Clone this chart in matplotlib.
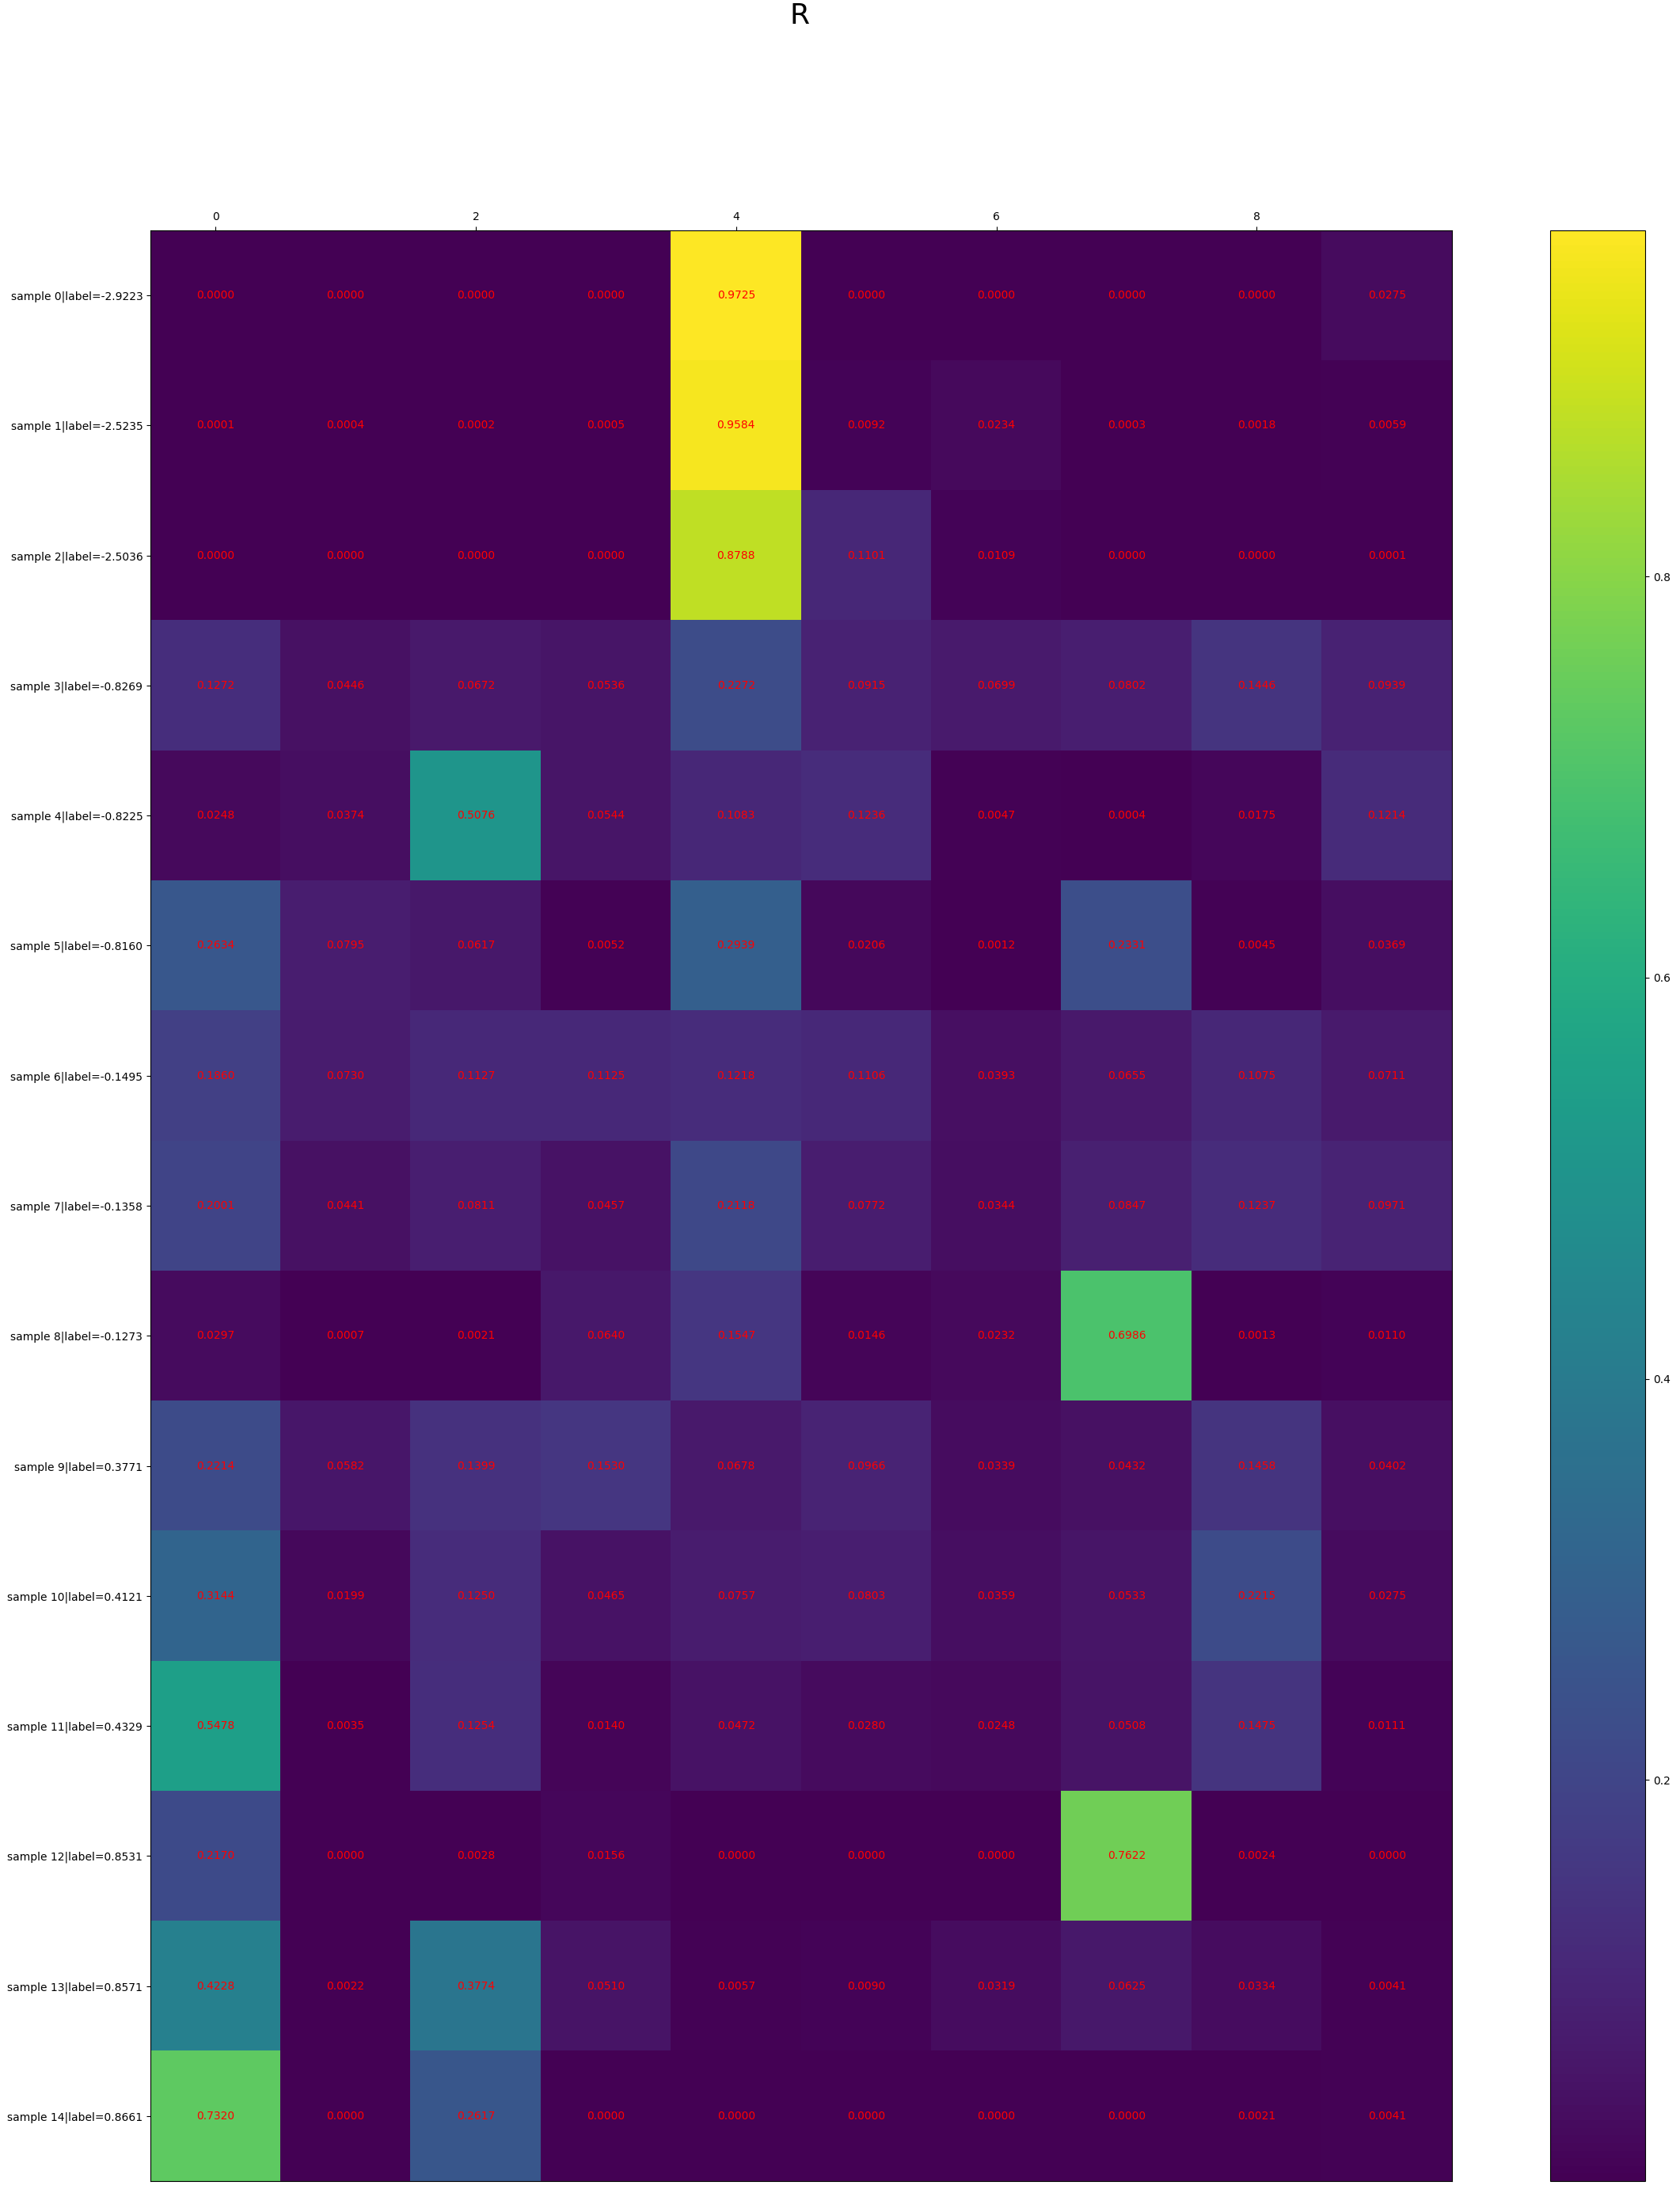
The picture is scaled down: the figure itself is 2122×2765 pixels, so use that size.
import numpy as np
import matplotlib
matplotlib.use('Agg')
import matplotlib.pyplot as plt

# label value of each sample (rows)
labels = [-2.9223, -2.5235, -2.5036, -0.8269, -0.8225, -0.8160, -0.1495,
          -0.1358, -0.1273, 0.3771, 0.4121, 0.4329, 0.8531, 0.8571, 0.8661]

# R matrix, one row per sample, 10 columns
R = np.array([
    [0.0000, 0.0000, 0.0000, 0.0000, 0.9725, 0.0000, 0.0000, 0.0000, 0.0000, 0.0275],
    [0.0001, 0.0004, 0.0002, 0.0005, 0.9584, 0.0092, 0.0234, 0.0003, 0.0018, 0.0059],
    [0.0000, 0.0000, 0.0000, 0.0000, 0.8788, 0.1101, 0.0109, 0.0000, 0.0000, 0.0001],
    [0.1272, 0.0446, 0.0672, 0.0536, 0.2272, 0.0915, 0.0699, 0.0802, 0.1446, 0.0939],
    [0.0248, 0.0374, 0.5076, 0.0544, 0.1083, 0.1236, 0.0047, 0.0004, 0.0175, 0.1214],
    [0.2634, 0.0795, 0.0617, 0.0052, 0.2939, 0.0206, 0.0012, 0.2331, 0.0045, 0.0369],
    [0.1860, 0.0730, 0.1127, 0.1125, 0.1218, 0.1106, 0.0393, 0.0655, 0.1075, 0.0711],
    [0.2001, 0.0441, 0.0811, 0.0457, 0.2118, 0.0772, 0.0344, 0.0847, 0.1237, 0.0971],
    [0.0297, 0.0007, 0.0021, 0.0640, 0.1547, 0.0146, 0.0232, 0.6986, 0.0013, 0.0110],
    [0.2214, 0.0582, 0.1399, 0.1530, 0.0678, 0.0966, 0.0339, 0.0432, 0.1458, 0.0402],
    [0.3144, 0.0199, 0.1250, 0.0465, 0.0757, 0.0803, 0.0359, 0.0533, 0.2215, 0.0275],
    [0.5478, 0.0035, 0.1254, 0.0140, 0.0472, 0.0280, 0.0248, 0.0508, 0.1475, 0.0111],
    [0.2170, 0.0000, 0.0028, 0.0156, 0.0000, 0.0000, 0.0000, 0.7622, 0.0024, 0.0000],
    [0.4228, 0.0022, 0.3774, 0.0510, 0.0057, 0.0090, 0.0319, 0.0625, 0.0334, 0.0041],
    [0.7320, 0.0000, 0.2617, 0.0000, 0.0000, 0.0000, 0.0000, 0.0000, 0.0021, 0.0041],
])

cbar_ticks = [0.2, 0.4, 0.6, 0.8]

ylabels = ['sample %d|label=%.4f' % (i, l) for i, l in enumerate(labels)]

fig = plt.figure(figsize=(21.22, 27.65), dpi=100)
ax = fig.add_axes([190/2122, 1 - 2755/2765, (1834-190)/2122, (2755-291)/2765])
cax = fig.add_axes([1958/2122, 1 - 2755/2765, (2078-1958)/2122, (2755-291)/2765])

im = ax.matshow(R, aspect='auto', cmap='viridis')
cb = fig.colorbar(im, cax=cax)
cb.set_ticks(cbar_ticks)

ax.set_yticks(np.arange(len(labels)))
ax.set_yticklabels(ylabels)
ax.tick_params(axis='x', bottom=False)

# value in every cell
for i in range(R.shape[0]):
    for j in range(R.shape[1]):
        ax.text(j, i, '%.4f' % R[i, j], ha='center', va='center', color='red')

fig.suptitle('R', fontsize=26, x=0.476, y=0.999)

plt.savefig('out.png')
